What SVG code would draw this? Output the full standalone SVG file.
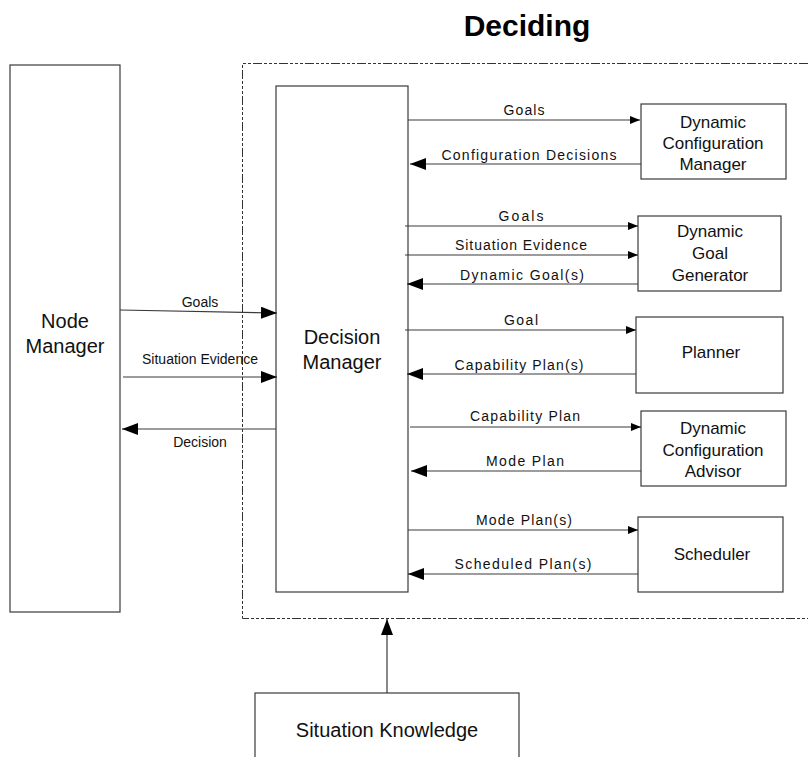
<svg xmlns="http://www.w3.org/2000/svg" width="808" height="757" viewBox="0 0 808 757">
<style>
.box{fill:#fff;stroke:#3a3a3a;stroke-width:1.2}
.bound{fill:none;stroke:#333;stroke-width:1;stroke-dasharray:9 2 3 2 3 2 3 2}
.ln{stroke:#3a3a3a;stroke-width:1.2;fill:none}
.big{font-family:"Liberation Sans",Arial,sans-serif;font-size:20px;fill:#111;text-anchor:middle}
.mid{font-family:"Liberation Sans",Arial,sans-serif;font-size:17px;fill:#111;text-anchor:middle}
.lab{font-family:"Liberation Sans",Arial,sans-serif;font-size:14px;fill:#111;text-anchor:middle}
.title{font-family:"Liberation Sans",Arial,sans-serif;font-size:30px;font-weight:bold;fill:#000;text-anchor:middle}
</style>
<defs>
<marker id="hs" viewBox="0 0 10 8" refX="10" refY="4" markerWidth="11" markerHeight="8" markerUnits="userSpaceOnUse" orient="auto"><path d="M0,0L10,4L0,8Z" fill="#000"/></marker>
<marker id="hb" viewBox="0 0 16 12" refX="16" refY="6" markerWidth="16" markerHeight="12" markerUnits="userSpaceOnUse" orient="auto"><path d="M0,0L16,6L0,12Z" fill="#000"/></marker>
</defs>
<rect width="808" height="757" fill="#fff"/>
<text class="title" x="527" y="36">Deciding</text>
<path id="deciding-boundary" class="bound" d="M808,63.5H242.5V618.5H808"/>
<g id="node-manager"><rect class="box" x="10" y="65" width="110" height="547"/><text class="big" x="65" y="328">Node</text><text class="big" x="65" y="353">Manager</text></g>
<g id="decision-manager"><rect class="box" x="276" y="86" width="132" height="506"/><text class="big" x="342" y="344">Decision</text><text class="big" x="342" y="369">Manager</text></g>
<g id="dcm"><rect class="box" x="641" y="104" width="145" height="75"/><text class="mid" x="713" y="128">Dynamic</text><text class="mid" x="713" y="149">Configuration</text><text class="mid" x="713" y="170">Manager</text></g>
<g id="dgg"><rect class="box" x="638" y="216" width="143" height="75"/><text class="mid" x="710" y="237">Dynamic</text><text class="mid" x="710" y="259">Goal</text><text class="mid" x="710" y="281">Generator</text></g>
<g id="planner"><rect class="box" x="636" y="317" width="147" height="76"/><text class="mid" x="711" y="358">Planner</text></g>
<g id="dca"><rect class="box" x="641" y="411" width="145" height="75"/><text class="mid" x="713" y="434">Dynamic</text><text class="mid" x="713" y="456">Configuration</text><text class="mid" x="713" y="477">Advisor</text></g>
<g id="scheduler"><rect class="box" x="638" y="517" width="145" height="75"/><text class="mid" x="712" y="560">Scheduler</text></g>
<g id="situation-knowledge"><rect class="box" x="255" y="693" width="264" height="80"/><text class="big" x="387" y="737" font-size="19">Situation Knowledge</text></g>
<g id="connectors">
<line class="ln" x1="408" y1="120" x2="640" y2="120" marker-end="url(#hs)"/>
<text class="lab" x="524" y="115" textLength="41" lengthAdjust="spacing">Goals</text>
<line class="ln" x1="641" y1="164" x2="410" y2="164" marker-end="url(#hb)"/>
<text class="lab" x="529" y="160" textLength="175" lengthAdjust="spacing">Configuration Decisions</text>
<line class="ln" x1="405" y1="226" x2="638" y2="226" marker-end="url(#hs)"/>
<text class="lab" x="521" y="221" textLength="45" lengthAdjust="spacing">Goals</text>
<line class="ln" x1="405" y1="255" x2="638" y2="255" marker-end="url(#hs)"/>
<text class="lab" x="521" y="250" textLength="132" lengthAdjust="spacing">Situation Evidence</text>
<line class="ln" x1="638" y1="284" x2="407" y2="284" marker-end="url(#hb)"/>
<text class="lab" x="522" y="280" textLength="124" lengthAdjust="spacing">Dynamic Goal(s)</text>
<line class="ln" x1="405" y1="330" x2="636" y2="330" marker-end="url(#hs)"/>
<text class="lab" x="521" y="325" textLength="34" lengthAdjust="spacing">Goal</text>
<line class="ln" x1="636" y1="374" x2="407" y2="374" marker-end="url(#hb)"/>
<text class="lab" x="519" y="370" textLength="129" lengthAdjust="spacing">Capability Plan(s)</text>
<line class="ln" x1="410" y1="427" x2="641" y2="427" marker-end="url(#hs)"/>
<text class="lab" x="525" y="421" textLength="110" lengthAdjust="spacing">Capability Plan</text>
<line class="ln" x1="641" y1="471" x2="411" y2="471" marker-end="url(#hb)"/>
<text class="lab" x="525" y="466" textLength="78" lengthAdjust="spacing">Mode Plan</text>
<line class="ln" x1="408" y1="530" x2="638" y2="530" marker-end="url(#hs)"/>
<text class="lab" x="524" y="525" textLength="96" lengthAdjust="spacing">Mode Plan(s)</text>
<line class="ln" x1="638" y1="574" x2="408" y2="574" marker-end="url(#hb)"/>
<text class="lab" x="523" y="569" textLength="137" lengthAdjust="spacing">Scheduled Plan(s)</text>
<line class="ln" x1="120" y1="310" x2="277" y2="313" marker-end="url(#hb)"/>
<text class="lab" x="200" y="307">Goals</text>
<line class="ln" x1="123" y1="377" x2="277" y2="377" marker-end="url(#hb)"/>
<text class="lab" x="200" y="364">Situation Evidence</text>
<line class="ln" x1="276" y1="429" x2="122" y2="429" marker-end="url(#hb)"/>
<text class="lab" x="200" y="447">Decision</text>
<line class="ln" x1="387" y1="693" x2="387" y2="619" marker-end="url(#hb)"/>
</g>
</svg>
